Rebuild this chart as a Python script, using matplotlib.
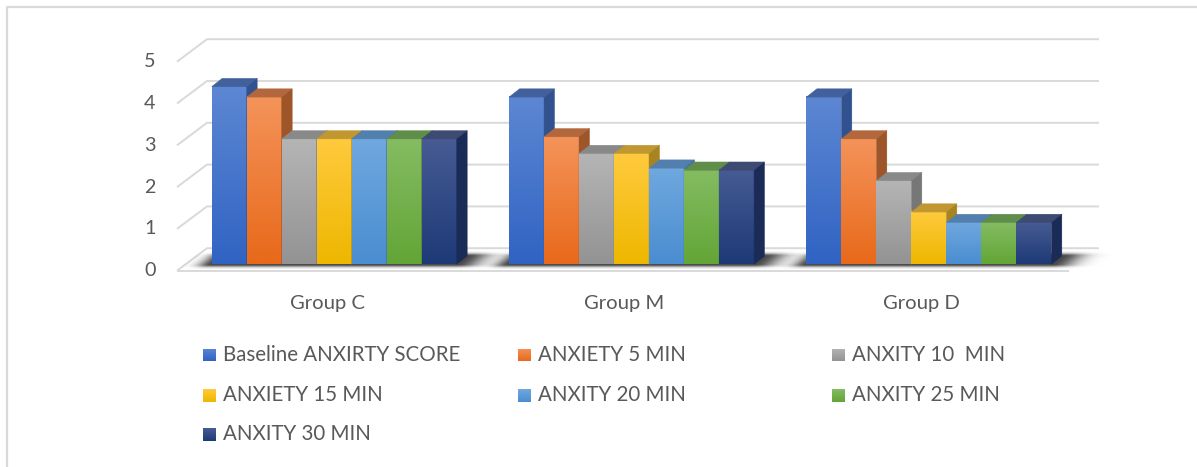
import numpy as np
import matplotlib
matplotlib.use("Agg")
import matplotlib.pyplot as plt
from matplotlib.patches import Polygon
from matplotlib.lines import Line2D
from matplotlib.colors import LinearSegmentedColormap

# ---------------- data ----------------
categories = ["Group C", "Group M", "Group D"]
series_names = ["Baseline ANXIRTY SCORE", "ANXIETY 5 MIN", "ANXITY 10  MIN",
                "ANXIETY 15 MIN", "ANXITY 20 MIN", "ANXITY 25 MIN", "ANXITY 30 MIN"]
baseline_score = [4.25, 4.0, 4.0]
anxiety_5 = [4.0, 3.05, 3.0]
anxiety_10 = [3.0, 2.65, 2.0]
anxiety_15 = [3.0, 2.65, 1.25]
anxiety_20 = [3.0, 2.3, 1.0]
anxiety_25 = [3.0, 2.25, 1.0]
anxiety_30 = [3.0, 2.25, 1.0]
y_ticks = [0, 1, 2, 3, 4, 5]
y_tick_labels = ["0", "1", "2", "3", "4", "5"]

series_values = [baseline_score, anxiety_5, anxiety_10, anxiety_15,
                 anxiety_20, anxiety_25, anxiety_30]

# ---------------- styles ----------------
front_top = ["#5D87D3", "#F4935A", "#B5B5B5", "#FFCA3D", "#70A8DF", "#85BC63", "#475B94"]
front_bottom = ["#3063C3", "#E8691A", "#939393", "#EEB700", "#4A8DD0", "#63A536", "#1D3A77"]
top_face = ["#41609C", "#B3673C", "#898989", "#C19732", "#527FAE", "#5F8D4A", "#3D4B73"]
side_face = ["#31528F", "#9E5528", "#777777", "#A7841F", "#416E9E", "#4E7A39", "#1B2B57"]
grid_color = "#D9D9D9"
text_color = "#595959"

plt.rcParams['font.family'] = ['Lato', 'DejaVu Sans']

W, H = 1197, 467
fig = plt.figure(figsize=(W / 100, H / 100), dpi=100)
ax = fig.add_axes([0, 0, 1, 1])
ax.axis('off')

# layout (pixel mapping of the plot frame)
PX_PER_X, X0_PX = 297.33, 325.67
PX_PER_Y, Y0_PX = 41.8, 270.7
XLIM = (-X0_PX / PX_PER_X, (W - X0_PX) / PX_PER_X)
YLIM = ((Y0_PX - H) / PX_PER_Y, Y0_PX / PX_PER_Y)

# oblique depth of the floor and of the bars
DX, DY = 30 / PX_PER_X, 22.5 / PX_PER_Y
d_front = 0.284
bdx, bdy = 10.5 / PX_PER_X, 8.3 / PX_PER_Y
n_series = len(series_names)
bw = 0.824 / n_series
x_cat = np.arange(len(categories))
x_left, x_right = -0.5, len(categories) - 0.5

# gridlines: side wall slant + back wall
for v in y_ticks:
    ax.plot([x_left, x_left + DX, x_right + DX], [v, v + DY, v + DY],
            color=grid_color, lw=1.4, zorder=1, solid_joinstyle='miter',
            solid_capstyle='butt')
ax.plot([x_left, x_right], [0, 0], color=grid_color, lw=1.4, zorder=1,
        solid_capstyle='butt')

# tick labels
for v, lab in zip(y_ticks, y_tick_labels):
    ax.text(x_left - 0.072, v, lab, ha='right', va='center', fontsize=14.2,
            color=text_color)
for xc, lab in zip(x_cat, categories):
    ax.text(xc + 0.005, -0.773, lab, ha='center', va='center', fontsize=14.6,
            color=text_color)

y0 = d_front * DY
x_off = d_front * DX

# bars
patch_grid = []
for i, vals in enumerate(series_values):
    xs = x_cat + x_off + (i - (n_series - 1) / 2) * bw
    bars = ax.bar(xs, vals, width=bw, bottom=y0, facecolor='none', lw=0, zorder=2.5)
    patch_grid.append(list(bars.patches))

grad = np.linspace(0, 1, 128).reshape(-1, 1)


def add_shadow(L, R, yb):
    xl, xh = L - 0.15, R + bdx + 0.2
    yl, yh = yb - 0.15, yb + bdy + 0.25
    xs = np.linspace(xl, xh, 500)
    ys = np.linspace(yl, yh, 80)
    X, Y = np.meshgrid(xs, ys)
    t = (Y - yb) / bdy
    xsh = X - t * bdx
    dl = np.maximum(L - xsh, 0)
    dr = np.maximum(xsh - R, 0)
    dt = np.maximum(np.maximum(-t, t - 1), 0)
    a = 0.72 * np.exp(-(dl / 0.045) ** 2) * np.exp(-(dr / 0.075) ** 2) \
        * np.exp(-(dt / 0.3) ** 2)
    rgba = np.zeros((len(ys), len(xs), 4))
    rgba[..., 3] = a
    ax.imshow(rgba, extent=(xl, xh, yl, yh), origin='lower', aspect='auto',
              zorder=2, interpolation='bilinear')


for g in range(len(categories)):
    L = patch_grid[0][g].get_x()
    R = patch_grid[-1][g].get_x() + patch_grid[-1][g].get_width()
    add_shadow(L, R, y0)
    for i in range(n_series):
        p = patch_grid[i][g]
        x, y, w, h = p.get_x(), p.get_y(), p.get_width(), p.get_height()
        z = 3 + (g * n_series + i) * 0.01
        cmap = LinearSegmentedColormap.from_list("c%d" % i, [front_bottom[i], front_top[i]])
        ax.imshow(grad, extent=(x, x + w, y, y + h), origin='lower', aspect='auto',
                  cmap=cmap, zorder=z, interpolation='bilinear')
        ax.add_patch(Polygon([(x, y + h), (x + w, y + h), (x + w + bdx, y + h + bdy),
                              (x + bdx, y + h + bdy)], closed=True,
                             facecolor=top_face[i], edgecolor=top_face[i], lw=0.3, zorder=z))
        ax.add_patch(Polygon([(x + w, y), (x + w, y + h), (x + w + bdx, y + h + bdy),
                              (x + w + bdx, y + bdy)], closed=True,
                             facecolor=side_face[i], edgecolor=side_face[i], lw=0.3, zorder=z))

ax.set_xlim(*XLIM)
ax.set_ylim(*YLIM)

# legend (row-major, three columns)
col_text_x = [223, 538, 852]
row_y = [355, 395, 434]
msize = 13
for k, name in enumerate(series_names):
    r, c = divmod(k, 3)
    tx, ty = col_text_x[c], row_y[r]
    mx = tx - 20
    max_ = fig.add_axes([mx / W, 1 - (ty + msize / 2) / H, msize / W, msize / H])
    max_.axis('off')
    cm = LinearSegmentedColormap.from_list("l%d" % k, [front_bottom[k], front_top[k]])
    max_.imshow(grad, extent=(0, 1, 0, 1), origin='lower', aspect='auto', cmap=cm)
    fig.text(tx / W, 1 - ty / H, name, ha='left', va='center', fontsize=14.8,
             color=text_color)

# outer frame (top and left edges visible)
fig.add_artist(Line2D([6.7 / W, 6.7 / W, 1.0], [0.0, 1 - 6.5 / H, 1 - 6.5 / H],
                      transform=fig.transFigure, color=grid_color, lw=1.6))

fig.savefig("out.png", dpi=100)
